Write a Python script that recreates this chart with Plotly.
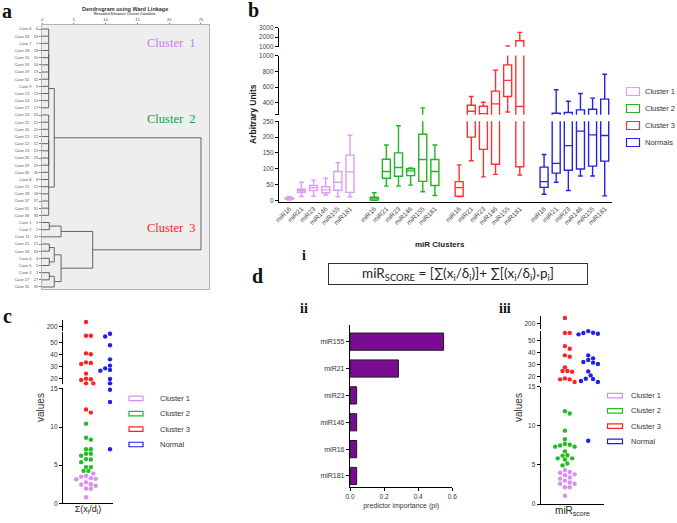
import plotly.graph_objects as go

W, H = 677, 523

# ---------------- data ----------------
# (a) dendrogram
case_numbers = [6, 33, 7, 28, 10, 16, 19, 32, 9, 13, 14, 17,
                24, 25, 20, 22, 12, 23, 26, 29, 30, 8, 15, 18, 37, 31, 36,
                1, 2, 11, 21, 34, 4, 5, 3, 27, 35]
# merges: (children, rescaled distance); ints are leaf rows, "Mk" is merge k
dendro_merges = [
    ([0, 1, 2, 3, 4, 5, 6, 7], 1.05),
    (["M0", 8, 9, 10, 11], 1.05),
    ([12, 13, 14, 15, 16, 17, 18, 19], 1.05),
    (["M2", 20, 21, 22, 23, 24, 25, 26], 1.05),
    (["M1", "M3"], 1.93),
    ([27, 28], 1.15),
    (["M5", 29], 3.0),
    ([30, 31], 1.15),
    ([32, 33], 1.15),
    ([34, 35], 1.15),
    (["M7", "M8"], 1.93),
    (["M9", 36], 1.93),
    (["M10", "M11"], 3.0),
    (["M6", "M12"], 7.97),
    (["M4", "M13"], 25.0),
]
dendro_ticks = [0, 5, 10, 15, 20, 25]

# (b) box plots
b_mirs = ["miR16", "miR21", "miR23", "miR146", "miR155", "miR181"]
b_groups = ["Cluster 1", "Cluster 2", "Cluster 3", "Normals"]
b_low = [[1, 12, 13, 17, 11, 11],
         [0, 45, 45, 48, 27, 15],
         [12, 125, 74, 82, 285, 80],
         [19, 57, 31, 77, 77, 14]]
b_q1 = [[3, 25, 31, 24, 32, 25],
        [1, 70, 76, 78, 60, 47],
        [13, 200, 161, 114, 481, 106],
        [41, 86, 95, 99, 108, 124]]
b_med = [[5, 30, 40, 33, 57, 90],
         [7, 91, 104, 93, 129, 91],
         [40, 294, 264, 387, 685, 353],
         [59, 117, 173, 219, 207, 205]]
b_q3 = [[8, 35, 47, 43, 91, 143],
        [10, 130, 150, 100, 209, 129],
        [59, 370, 357, 549, 881, 1632],
        [105, 268, 277, 311, 319, 447]]
b_high = [[12, 57, 64, 70, 119, 206],
          [24, 175, 236, 102, 336, 175],
          [112, 481, 408, 813, 1080, 2509],
          [145, 566, 421, 519, 460, 762]]

# (c) sum(x_i/d_i) scatter
c_groups = ["Cluster 1", "Cluster 2", "Cluster 3", "Normal"]
c_cluster1 = [3.9, 3.6, 3.5, 3.2, 3.15, 3.3, 2.75, 2.5, 2.3, 2.45, 1.95, 1.9, 0.8]
c_cluster2 = [10.45, 8.6, 8.35, 7.1, 7.1, 6.25, 6.5, 6.5, 5.75, 5.8, 5.4, 4.75, 4.75, 4.25, 4.25]
c_cluster3 = [255, 55.5, 55.5, 40.8, 40, 33.3, 31.9, 32.8, 23.9, 19.2, 19.7, 18.6,
              15.8, 15.8, 12.3, 11.9]
c_normal = [57.2, 54.8, 54.8, 54.8, 47.5, 35.8, 30.6, 28.3, 28, 27, 26.4, 28.5,
            19.4, 19.4, 15.8, 14.9, 14.9, 13.3, 7.1]

# (d-ii) predictor importance
imp_mirs = ["miR155", "miR21", "miR23", "miR146", "miR16", "miR181"]
imp_vals = [0.549, 0.284, 0.039, 0.039, 0.039, 0.039]

# (d-iii) miR score scatter
d_cluster1 = [4.35, 4.1, 4.0, 3.8, 3.7, 3.4, 3.25, 3.0, 2.75, 2.6, 2.6, 2.15, 2.15, 1.05]
d_cluster2 = [11.9, 11.6, 9.4, 8.3, 7.7, 7.6, 7.5, 7.35, 7.35, 6.75, 6.2, 6.25,
              5.85, 5.85, 5.7, 5.2, 4.95]
d_cluster3 = [258, 56.5, 56.5, 45.5, 43.3, 37.8, 36.7, 27.8, 24.7, 24.2, 24.7,
              18.6, 17.8, 17.8, 15.6]
d_normal = [56.4, 55.8, 55.3, 56.7, 58, 37.8, 35.3, 33.9, 32.2, 31.7, 30.6,
            24.4, 21.1, 18.3, 18.1, 16.4, 15.6, 8.1]

# ---------------- styles ----------------
COL = ["#dc8cf2", "#1fbf1f", "#ff2222", "#2020e8"]
BOX_COL = ["#e39bf7", "#22b422", "#ff3030", "#2424e6"]
FONT = "Liberation Sans, Arial"
SERIF = "Liberation Serif, Times New Roman"


def fx(px):
    return px / W


def fy(py):
    return 1 - py / H


def ydom(bottom_px, top_px):
    return [fy(bottom_px), fy(top_px)]


def note(x, y, text, size, family=FONT, color="#333", xanchor="center", angle=0, **kw):
    d = dict(x=fx(x), y=fy(y), xref="paper", yref="paper", text=text, showarrow=False,
             xanchor=xanchor, yanchor="middle", textangle=angle,
             font=dict(size=size, family=family, color=color))
    d.update(kw)
    return d


fig = go.Figure()
annotations = []
shapes = []

# ================= (a) dendrogram =================
node_x, node_y = {}, {}
for i in range(len(case_numbers)):
    node_x[("L", i)] = 0.0
    node_y[("L", i)] = float(i)
seg_x, seg_y = [], []
for m, (children, d) in enumerate(dendro_merges):
    keys = [("L", c) if isinstance(c, int) else ("M", int(c[1:])) for c in children]
    ys = [node_y[k] for k in keys]
    for k in keys:
        seg_x += [node_x[k], d, None]
        seg_y += [node_y[k], node_y[k], None]
    seg_x += [d, d, None]
    seg_y += [min(ys), max(ys), None]
    node_x[("M", m)] = d
    node_y[("M", m)] = sum(ys) / len(ys)

fig.add_trace(go.Scatter(x=seg_x, y=seg_y, mode="lines", xaxis="x", yaxis="y",
                         line=dict(color="#555555", width=0.9), showlegend=False,
                         hoverinfo="skip"))

layout = dict(
    xaxis=dict(domain=[fx(42), fx(209)], range=[0, 26.26], anchor="y", side="top",
               showline=True, mirror=True, linecolor="#b5b5b5", linewidth=1,
               tickvals=dendro_ticks, ticks="outside", ticklen=1, tickcolor="#777",
               tickfont=dict(size=4, family=FONT, color="#444"), showgrid=False,
               zeroline=False),
    yaxis=dict(domain=ydom(289, 25), range=[36.28, -0.56], anchor="x",
               showline=True, mirror=True, linecolor="#b5b5b5", linewidth=1,
               tickvals=list(range(len(case_numbers))),
               ticktext=[f"Case {n}\u00a0\u00a0\u00a0\u00a0{n}" for n in case_numbers],
               ticks="outside", ticklen=2, tickcolor="#777",
               tickfont=dict(size=4, family=FONT, color="#555"), showgrid=False,
               zeroline=False),
)
shapes.append(dict(type="rect", xref="x domain", yref="y domain", x0=0, x1=1, y0=0, y1=1,
                   fillcolor="#eeeeee", line=dict(width=0), layer="below"))
annotations += [
    note(125, 9.5, "<b>Dendrogram using Ward Linkage</b>", 5.5),
    note(125, 14.5, "<b>Rescaled Distance Cluster Combine</b>", 3.6, color="#555"),
]
for name, row, color in [("Cluster  1", 1.9, "#c77dee"), ("Cluster  2", 12.5, "#14a04a"),
                         ("Cluster  3", 27.8, "#ff1a1a")]:
    annotations.append(dict(x=20.4, y=row, xref="x", yref="y", text=name, showarrow=False,
                            xanchor="center", yanchor="middle",
                            font=dict(size=12.5, family=SERIF, color=color)))

# ================= (b) box plots =================
b_segs = [("y2", ydom(201.5, 121.3), [-3.8, 250], [0, 50, 100, 150, 200, 250], None),
          ("y3", ydom(114.7, 55.5), [250, 1000], [250, 400, 600, 800, 1000],
           ["", "400", "600", "800", "1000"]),
          ("y4", ydom(46.7, 27.7), [1000, 3000], [1000, 2000, 3000], None)]
n = len(b_mirs)
for g, grp in enumerate(b_groups):
    xs = [g * (n + 1) + i for i in range(n)]
    for ya, _, _, _, _ in b_segs:
        fig.add_trace(go.Box(x=xs, q1=b_q1[g], median=b_med[g], q3=b_q3[g],
                             lowerfence=b_low[g], upperfence=b_high[g],
                             xaxis="x2", yaxis=ya, name=grp, showlegend=False,
                             line=dict(color=BOX_COL[g], width=1.4),
                             fillcolor="rgba(0,0,0,0)", width=0.66, whiskerwidth=0.6,
                             boxpoints=False, hoverinfo="skip"))
b_tickvals = [g * (n + 1) + i for g in range(len(b_groups)) for i in range(n)]
b_ticktext = [m for g in range(len(b_groups)) for m in b_mirs]
layout["xaxis2"] = dict(domain=[fx(279), fx(612)], range=[-0.85, 26.6], anchor="y2",
                        showline=True, linecolor="black", linewidth=1.3,
                        tickvals=b_tickvals, ticktext=b_ticktext, tickangle=-45, ticks="",
                        tickfont=dict(size=6.5, family=FONT, color="#444"),
                        showgrid=False, zeroline=False)
for ya, dom, rng, tv, tt in b_segs:
    key = "yaxis" + ya[1:]
    layout[key] = dict(domain=dom, range=rng, anchor="x2", showline=True, linecolor="black",
                       linewidth=1.3, ticks="outside", ticklen=3, tickcolor="black",
                       tickvals=tv, ticktext=tt if tt else [str(v) for v in tv],
                       tickfont=dict(size=6.5, family=FONT, color="#444"),
                       showgrid=False, zeroline=False)
annotations += [
    note(253, 114, "<b>Arbitrary Units</b>", 8.5, color="#222", angle=-90),
    note(440, 244, "<b>miR Clusters</b>", 8, color="#222"),
]


def manual_legend(names, colors, x_rect, y0, step, rw, rh, x_text, fsize):
    for k, (nm, c) in enumerate(zip(names, colors)):
        yc = y0 + k * step
        shapes.append(dict(type="rect", xref="paper", yref="paper",
                           x0=fx(x_rect - rw / 2), x1=fx(x_rect + rw / 2),
                           y0=fy(yc + rh / 2), y1=fy(yc - rh / 2),
                           line=dict(color=c, width=1.2), fillcolor="rgba(0,0,0,0)"))
        annotations.append(note(x_text, yc, nm, fsize, xanchor="left"))


manual_legend(b_groups, BOX_COL, 633, 91.5, 17, 13, 8, 643, 7.5)


# ================= scatter helpers =================
def seg_px(v, segs):
    for _, dom_px, rng, _, _ in segs:
        lo, hi = rng
        b, t = dom_px
        if lo <= v <= hi:
            return b + (v - lo) / (hi - lo) * (t - b)
    return None


def seg_index(v, segs):
    for k, (_, _, rng, _, _) in enumerate(segs):
        if rng[0] <= v <= rng[1]:
            return k
    return None


def swarm(values, segs, diam):
    order = sorted(range(len(values)), key=lambda i: seg_px(values[i], segs))
    placed = []
    offs = [0.0] * len(values)
    cands = [0]
    for k in range(1, 20):
        cands += [k, -k]
    for i in order:
        yp = seg_px(values[i], segs)
        for k in cands:
            dx = k * diam * 0.55
            ok = all((dx - px) ** 2 + (yp - py) ** 2 >= (diam * 0.98) ** 2 for px, py in placed)
            if ok:
                offs[i] = dx
                placed.append((dx, yp))
                break
    return offs


def dot_panel(xa, segs, cols_data, x_px_per_unit, diam):
    for col, groups in cols_data:
        allv, owner = [], []
        for gi, (vals, color, nm) in enumerate(groups):
            allv += vals
            owner += [gi] * len(vals)
        offs = swarm(allv, segs, diam)
        for gi, (vals, color, nm) in enumerate(groups):
            for s, (ya, _, _, _, _) in enumerate(segs):
                xs = [col + offs[j] / x_px_per_unit for j in range(len(allv))
                      if owner[j] == gi and seg_index(allv[j], segs) == s]
                ys = [allv[j] for j in range(len(allv))
                      if owner[j] == gi and seg_index(allv[j], segs) == s]
                if xs:
                    fig.add_trace(go.Scatter(x=xs, y=ys, mode="markers", xaxis=xa, yaxis=ya,
                                             marker=dict(color=color, size=diam, line=dict(width=0)),
                                             cliponaxis=False, showlegend=False, name=nm,
                                             hoverinfo="skip"))


def seg_axes(segs, anchor):
    for ya, dom_px, rng, tv, tt in segs:
        layout["yaxis" + ya[1:]] = dict(
            domain=ydom(*dom_px), range=rng, anchor=anchor, showline=True, linecolor="black",
            linewidth=1.2, ticks="outside", ticklen=3, tickcolor="black", tickvals=tv,
            ticktext=[str(v) for v in tv],
            tickfont=dict(size=6.5, family=FONT, color="#333"), showgrid=False, zeroline=False)


# ================= (c) =================
c_segs = [("y5", (503.3, 388), [0, 15.13], [0, 5, 10, 15], None),
          ("y6", (384, 332), [15.25, 58.6], [20, 30, 40, 50], None),
          ("y7", (331, 320), [140, 280], [200], None)]
dot_panel("x3", c_segs,
          [(0, [(c_cluster1, COL[0], c_groups[0]), (c_cluster2, COL[1], c_groups[1]),
                (c_cluster3, COL[2], c_groups[2])]),
           (1, [(c_normal, COL[3], c_groups[3])])],
          24.0, 4.4)
seg_axes(c_segs, "x3")
layout["xaxis3"] = dict(domain=[fx(63), fx(113)], range=[-0.96, 1.125], anchor="y5",
                        showline=True, linecolor="black", linewidth=1.2, showticklabels=False,
                        ticks="", showgrid=False, zeroline=False,
                        title=dict(text="\u03a3(x<sub>i</sub>/d<sub>i</sub>)", standoff=2,
                                   font=dict(size=9, family=FONT, color="#222")))
annotations.append(note(40, 408, "values", 10, angle=-90))
manual_legend(c_groups, COL, 136, 398.3, 15.4, 14, 4.5, 158, 7.5)

# ================= (d-ii) bar =================
fig.add_trace(go.Bar(y=list(range(len(imp_mirs))), x=imp_vals, orientation="h",
                     xaxis="x4", yaxis="y8", width=0.64,
                     marker=dict(color="#7a0c94", line=dict(color="#1a1a1a", width=1)),
                     showlegend=False, hoverinfo="skip"))
layout["xaxis4"] = dict(domain=[fx(350), fx(452.3)], range=[0, 0.6], anchor="y8",
                        showline=True, linecolor="black", linewidth=1.2, ticks="outside",
                        ticklen=3, tickcolor="black", tickvals=[0, 0.2, 0.4, 0.6],
                        ticktext=["0.0", "0.2", "0.4", "0.6"],
                        tickfont=dict(size=6.5, family=FONT, color="#333"),
                        showgrid=False, zeroline=False,
                        title=dict(text="predictor importance (pi)", standoff=4,
                                   font=dict(size=7, family=FONT, color="#333")))
layout["yaxis8"] = dict(domain=ydom(487, 325), range=[5.41, -0.62], anchor="x4",
                        showline=True, linecolor="black", linewidth=1.2, ticks="outside",
                        ticklen=3, tickcolor="black", tickvals=list(range(len(imp_mirs))),
                        ticktext=imp_mirs, tickfont=dict(size=7, family=FONT, color="#333"),
                        showgrid=False, zeroline=False)

# ================= (d-iii) =================
d_segs = [("y9", (504, 386.5), [0, 15.06], [0, 5, 10, 15], None),
          ("y10", (383, 331), [14.75, 58.1], [20, 30, 40, 50], None),
          ("y11", (329, 316), [140, 280], [200], None)]
dot_panel("x5", d_segs,
          [(0, [(d_cluster1, COL[0], c_groups[0]), (d_cluster2, COL[1], c_groups[1]),
                (d_cluster3, COL[2], c_groups[2])]),
           (1, [(d_normal, COL[3], c_groups[3])])],
          23.3, 4.4)
seg_axes(d_segs, "x5")
layout["xaxis5"] = dict(domain=[fx(540.7), fx(604.3)], range=[-1.04, 1.69], anchor="y9",
                        showline=True, linecolor="black", linewidth=1.2, showticklabels=False,
                        ticks="", showgrid=False, zeroline=False,
                        title=dict(text="miR<sub>score</sub>", standoff=2,
                                   font=dict(size=10, family=FONT, color="#222")))
annotations.append(note(518, 408, "values", 10, angle=-90))
manual_legend(c_groups, COL, 615, 395.7, 15.2, 15, 4.5, 629, 7.5)

# ================= formula & panel labels =================
annotations.append(note(
    458, 274,
    "miR<sub>SCORE</sub> = [\u2211(x<sub>i</sub>/\u03b4<sub>i</sub>)]+ "
    "\u2211[(x<sub>i</sub>/\u03b4<sub>i</sub>)<sub>*</sub>p<sub>i</sub>]",
    13.5, family="Lato, Open Sans", color="#222",
    bordercolor="#333", borderwidth=1, borderpad=1, width=256, height=18, align="center"))
for txt, x, y, s in [("a", 7, 11, 20), ("b", 253, 10, 20), ("c", 7, 316, 20), ("d", 257, 276, 20),
                     ("i", 304, 255, 14), ("ii", 304, 308, 14), ("iii", 505, 308, 14)]:
    annotations.append(note(x, y, f"<b>{txt}</b>", s, family=SERIF, color="#111"))

for k, v in layout.items():
    if k.startswith("xaxis") or k.startswith("yaxis"):
        v["automargin"] = False

fig.update_layout(**layout)
fig.update_layout(template="none", width=W, height=H, autosize=False,
                  margin=dict(l=0, r=0, t=0, b=0, pad=0),
                  paper_bgcolor="white", plot_bgcolor="rgba(0,0,0,0)", boxmode="overlay",
                  showlegend=False, annotations=annotations, shapes=shapes, bargap=0.36)

fig.write_html("out.html", config={"displayModeBar": False},
               post_script="document.body.style.margin='0px';"
                           "document.body.style.padding='0px';")
